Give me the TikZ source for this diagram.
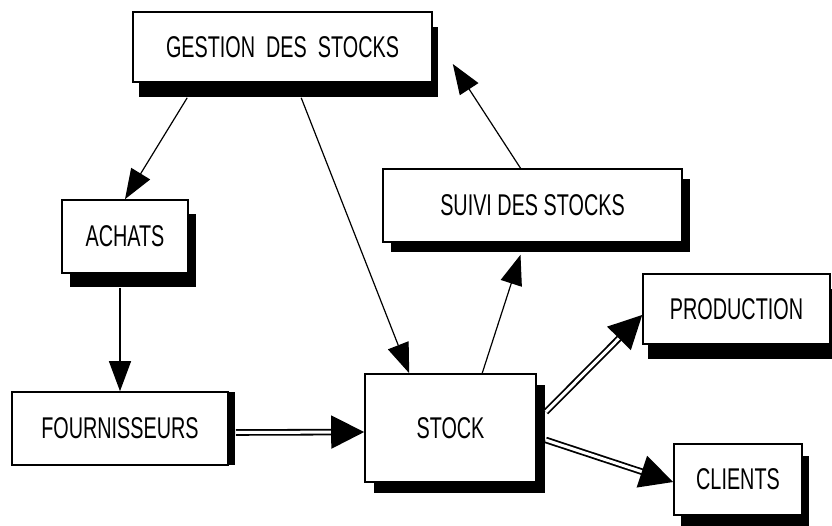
\documentclass[tikz,border=0pt]{standalone}
\usepackage{fontspec}
\setmainfont{Liberation Sans}[FakeStretch=0.66]
\usetikzlibrary{arrows.meta,shadows}

\tikzset{
  box/.style={draw, line width=1.6pt, fill=white, inner sep=0pt,
    font=\fontsize{30}{30}\selectfont},
  shadowed/.style 2 args={drop shadow={shadow xshift=#1, shadow yshift=#2,
    fill=black, opacity=1}},
  flow/.style={line width=1.2pt, -{Triangle[length=30pt,width=22pt]}},
  bigflow/.style={double, double distance=3pt, line width=1.8pt,
    -{Triangle[length=33pt,width=33pt]}},
}

\begin{document}
\begin{tikzpicture}[x=1pt,y=-1pt]
\useasboundingbox (0,0) rectangle (832,526);
    \node[box, shadowed={6pt}{-15pt}, minimum width=299pt, minimum height=70pt] (gestion) at (282.5,47) {GESTION\ \ DES\ \ STOCKS};
    \node[box, shadowed={8pt}{-10pt}, minimum width=299pt, minimum height=73pt] (suivi) at (532.5,205.5) {SUIVI DES STOCKS};
    \node[box, shadowed={8pt}{-14pt}, minimum width=126pt, minimum height=73pt] (achats) at (125,236.5) {ACHATS};
    \node[box, shadowed={7pt}{0pt}, minimum width=216pt, minimum height=73pt] (fournisseurs) at (120,428.5) {FOURNISSEURS};
    \node[box, shadowed={9pt}{-11pt}, minimum width=171pt, minimum height=108pt] (stock) at (450.5,428) {STOCK};
    \node[box, shadowed={5pt}{-15pt}, minimum width=187pt, minimum height=70pt] (production) at (736.5,309) {PRODUCTION};
    \node[box, shadowed={7pt}{-12pt}, minimum width=128pt, minimum height=71pt] (clients) at (738,479.5) {CLIENTS};

    \draw[flow] ([xshift=55pt,yshift=-15pt]gestion.south west) -- (achats.north);
    \draw[flow] ([xshift=169pt,yshift=-15pt]gestion.south west) -- ([xshift=45pt]stock.north west);
    \draw[flow] ([yshift=-14pt]fournisseurs.north |- achats.south) -- (fournisseurs.north);
    \draw[flow] ([xshift=-12pt]suivi.north) -- ([xshift=20pt,yshift=-17pt]gestion.east);
    \draw[flow] ([xshift=118pt]stock.north west) -- ([xshift=-12pt,yshift=-12pt]suivi.south);
    \draw[bigflow] ([xshift=7pt,yshift=-4pt]fournisseurs.east) -- ([yshift=-4pt]stock.west);
    \draw[bigflow] ([xshift=9pt,yshift=16pt]stock.east) -- ([yshift=-6pt]production.west);
    \draw[bigflow] ([xshift=9pt,yshift=-12pt]stock.east) -- ([yshift=-2.5pt]clients.west);
\end{tikzpicture}
\end{document}
